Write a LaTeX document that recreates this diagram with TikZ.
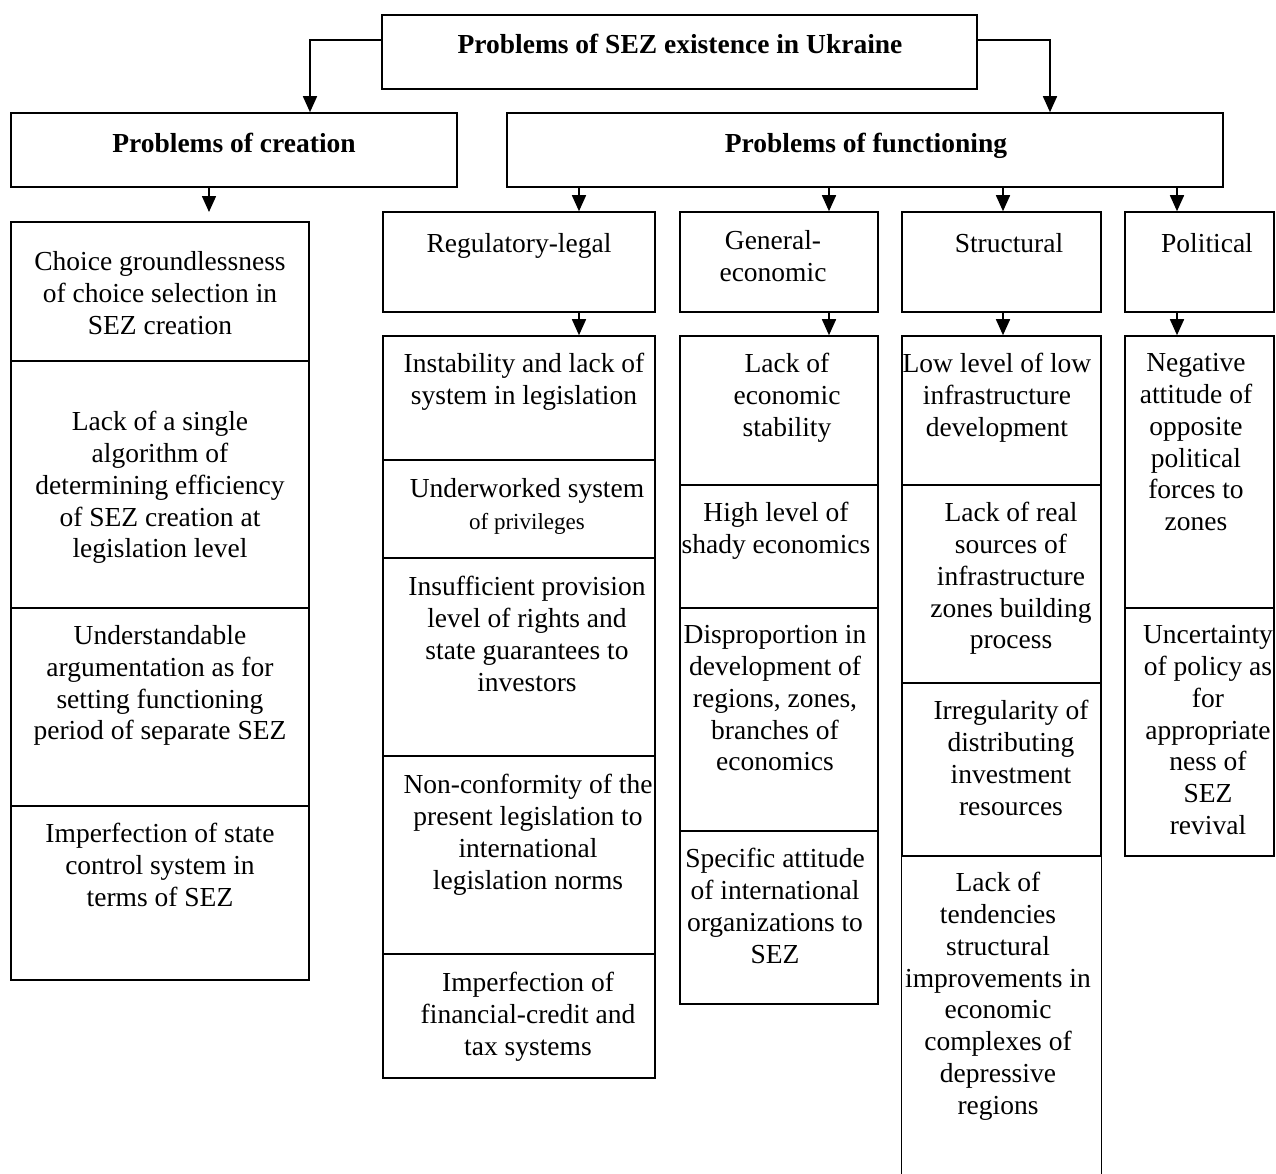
\documentclass[tikz,border=0pt]{standalone}
\usepackage{fontspec}
\setmainfont{Liberation Serif}
\usetikzlibrary{arrows.meta,fit}
\tikzset{
  ln/.style={line width=0.8pt},
  boxst/.style={draw, ln, inner sep=0pt},
  thick box/.style={draw, line width=1.1pt, inner sep=0pt},
  txt/.style={align=center, inner sep=0pt, anchor=north, yshift=-2.5pt, font=\fontsize{13.75pt}{15.9pt}\selectfont, execute at begin node=\strut},
  hdr/.style={align=center, inner sep=0pt, anchor=north, yshift=-1.5pt, font=\fontsize{13.75pt}{15.9pt}\selectfont\bfseries, execute at begin node=\strut},
  arr/.style={ln, -{Triangle[length=8pt,width=7pt]}}
}
\newcommand\bx[6][boxst]{\node[#1, fit={(#3,#4) (#5,#6)}] (#2) {};}
\newcommand\tx[5][txt]{\node[#1] (#2) at (#3,#4) {#5};}
\begin{document}
\begin{tikzpicture}[x=0.5pt,y=-0.5pt]
\useasboundingbox (0,0) rectangle (1276,1174);
% header boxes
\bx{top}{382}{15}{977}{89}
\bx{cre}{11}{113}{457}{187}
\bx{fun}{507}{113}{1223}{187}
\tx[hdr]{ttop}{680}{28}{Problems of SEZ existence in Ukraine}
\tx[hdr]{tcre}{234}{127}{Problems of creation}
\tx[hdr]{tfun}{866}{127}{Problems of functioning}
% left column
\bx[thick box]{l1}{11}{222}{309}{361}
\bx[thick box]{l2}{11}{361}{309}{608}
\bx{l3}{11}{608}{309}{806}
\bx{l4}{11}{806}{309}{980}
\tx{tl1}{160}{246}{Choice groundlessness\\of choice selection in\\SEZ creation}
\tx{tl2}{160}{406}{Lack of a single\\algorithm of\\determining efficiency\\of SEZ creation at\\legislation level}
\tx{tl3}{160}{620}{Understandable\\argumentation as for\\setting functioning\\period of separate SEZ}
\tx{tl4}{160}{818}{Imperfection of state\\control system in\\terms of SEZ}
% category boxes
\bx{c1}{383}{212}{655}{312}
\bx{c2}{680}{212}{878}{312}
\bx{c3}{902}{212}{1101}{312}
\bx{c4}{1125}{212}{1274}{312}
\tx{tc1}{519}{225}{Regulatory-legal}
\tx{tc2}{773}{225}{General-\\economic}
\tx{tc3}{1009}{225}{Structural}
\tx{tc4}{1207}{225}{Political}
% regulatory-legal column
\bx{r1}{383}{336}{655}{460}
\bx{r2}{383}{460}{655}{558}
\bx{r3}{383}{558}{655}{756}
\bx{r4}{383}{756}{655}{954}
\bx{r5}{383}{954}{655}{1078}
\tx{tr1}{524}{348}{Instability and lack of\\system in legislation}
\tx{tr2}{527}{473}{Underworked system\\{\fontsize{11.5pt}{15.9pt}\selectfont of privileges}}
\tx{tr3}{527}{571}{Insufficient provision\\level of rights and\\state guarantees to\\investors}
\tx{tr4}{528}{769}{Non-conformity of the\\present legislation to\\international\\legislation norms}
\tx{tr5}{528}{967}{Imperfection of\\financial-credit and\\tax systems}
% general-economic column
\bx{g1}{680}{336}{878}{485}
\bx{g2}{680}{485}{878}{608}
\bx{g3}{680}{608}{878}{831}
\bx{g4}{680}{831}{878}{1004}
\tx{tg1}{787}{348}{Lack of\\economic\\stability}
\tx{tg2}{776}{497}{High level of\\shady economics}
\tx{tg3}{775}{620}{Disproportion in\\development of\\regions, zones,\\branches of\\economics}
\tx{tg4}{775}{843}{Specific attitude\\of international\\organizations to\\SEZ}
% structural column
\bx{s1}{902}{336}{1101}{485}
\bx{s2}{902}{485}{1101}{683}
\bx{s3}{902}{683}{1101}{856}
\node[inner sep=0pt, fit={(902,856) (1101,1180)}] (s4) {};
\draw[ln] (s4.south west) -- (s4.north west) -- (s4.north east) -- (s4.south east);
\tx{ts1}{997}{348}{Low level of low\\infrastructure\\development}
\tx{ts2}{1011}{497}{Lack of real\\sources of\\infrastructure\\zones building\\process}
\tx{ts3}{1011}{695}{Irregularity of\\distributing\\investment\\resources}
\tx{ts4}{998}{867}{Lack of\\tendencies\\structural\\improvements in\\economic\\complexes of\\depressive\\regions}
% political column
\bx{p1}{1125}{336}{1274}{608}
\bx{p2}{1125}{608}{1274}{856}
\tx{tp1}{1196}{348}{Negative\\attitude of\\opposite\\political\\forces to\\zones}
\tx{tp2}{1208}{620}{Uncertainty\\of policy as\\for\\appropriate\\ness of\\SEZ\\revival}
% connector helper coordinates
\coordinate (lk) at (310,40);
\coordinate (rk) at (1050,40);
\coordinate (ct) at (209,212);
\coordinate (x1) at (579,0);
\coordinate (x2) at (829,0);
\coordinate (x3) at (1003,0);
\coordinate (x4) at (1177,0);
% connectors
\draw[arr] (top.west |- lk) -| (cre.north -| lk);
\draw[arr] (top.east |- rk) -| (fun.north -| rk);
\draw[arr] (cre.south -| ct) -- (ct);
\draw[arr] (fun.south -| x1) -- (c1.north -| x1);
\draw[arr] (fun.south -| x2) -- (c2.north -| x2);
\draw[arr] (fun.south -| x3) -- (c3.north -| x3);
\draw[arr] (fun.south -| x4) -- (c4.north -| x4);
\draw[arr] (c1.south -| x1) -- (r1.north -| x1);
\draw[arr] (c2.south -| x2) -- (g1.north -| x2);
\draw[arr] (c3.south -| x3) -- (s1.north -| x3);
\draw[arr] (c4.south -| x4) -- (p1.north -| x4);
\end{tikzpicture}
\end{document}
